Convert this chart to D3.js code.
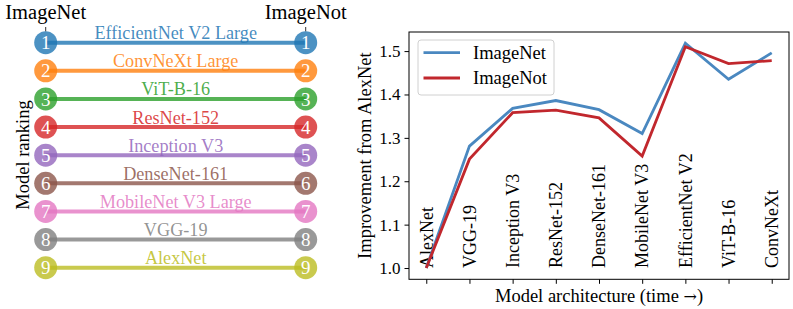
<!DOCTYPE html>
<html>
<head>
<meta charset="utf-8">
<script src="https://cdn.jsdelivr.net/npm/d3@7"></script>
<style>
	body { margin: 0; background: #fff; }
	svg { display: block; font-family: "Liberation Serif", serif; }
</style>
</head>
<body>
<svg id="chart" width="793" height="309"></svg>
<script>
// models on the right, oldest first
const models = ['AlexNet', 'VGG-19', 'Inception V3', 'ResNet-152', 'DenseNet-161', 'MobileNet V3', 'EfficientNet V2', 'ViT-B-16', 'ConvNeXt'];
const imagenetGain = [1.0, 1.281, 1.368, 1.386, 1.365, 1.31, 1.518, 1.435, 1.496];
const imagenotGain = [1.0, 1.251, 1.358, 1.364, 1.346, 1.258, 1.51, 1.471, 1.478];
const yTicks = [1.0, 1.1, 1.2, 1.3, 1.4, 1.5];

// ranking panel on the left
const rankModels = ['EfficientNet V2 Large', 'ConvNeXt Large', 'ViT-B-16', 'ResNet-152', 'Inception V3', 'DenseNet-161', 'MobileNet V3 Large', 'VGG-19', 'AlexNet'];
const rankImageNet = [1, 2, 3, 4, 5, 6, 7, 8, 9];
const rankImageNot = [1, 2, 3, 4, 5, 6, 7, 8, 9];
const rankColumns = ['ImageNet', 'ImageNot'];

const rankColors = d3.schemeCategory10;
const seriesColors = {ImageNet: '#4a88c0', ImageNot: '#c1272d'};

const svg = d3.select('#chart');

// ---------- left: ranking ----------
const rx = d3.scalePoint().domain(rankColumns).range([45.7, 305.7]);
const ry = d3.scaleLinear().domain([1, 9]).range([42.7, 267.7]);

const left = svg.append('g');

left.selectAll('text.col')
	.data(rankColumns)
	.enter()
	.append('text')
	.attr('class', 'col')
	.attr('x', d => rx(d))
	.attr('y', 18.5)
	.attr('text-anchor', 'middle')
	.style('font-size', '20.5px')
	.text(d => d);

left.selectAll('line.tick')
	.data(rankColumns)
	.enter()
	.append('line')
	.attr('x1', d => rx(d))
	.attr('x2', d => rx(d))
	.attr('y1', 27)
	.attr('y2', 31.5)
	.attr('stroke', '#333')
	.attr('stroke-width', 1);

const rows = rankModels.map((name, i) => ({
	name: name,
	a: rankImageNet[i],
	b: rankImageNot[i],
	color: rankColors[i],
}));

const rowG = left.selectAll('g.row')
	.data(rows)
	.enter()
	.append('g')
	.attr('class', 'row');

rowG.append('circle')
	.attr('cx', rx('ImageNet'))
	.attr('cy', d => ry(d.a))
	.attr('r', 11.5)
	.attr('fill', d => d.color)
	.attr('fill-opacity', 0.8);

rowG.append('circle')
	.attr('cx', rx('ImageNot'))
	.attr('cy', d => ry(d.b))
	.attr('r', 11.5)
	.attr('fill', d => d.color)
	.attr('fill-opacity', 0.8);

rowG.append('line')
	.attr('x1', rx('ImageNet'))
	.attr('x2', rx('ImageNot'))
	.attr('y1', d => ry(d.a))
	.attr('y2', d => ry(d.b))
	.attr('stroke', d => d.color)
	.attr('stroke-opacity', 0.8)
	.attr('stroke-width', 4);

rowG.append('text')
	.attr('x', rx('ImageNet'))
	.attr('y', d => ry(d.a))
	.attr('dy', '0.35em')
	.attr('text-anchor', 'middle')
	.attr('fill', '#fff')
	.style('font-size', '19px')
	.text(d => d.a);

rowG.append('text')
	.attr('x', rx('ImageNot'))
	.attr('y', d => ry(d.b))
	.attr('dy', '0.35em')
	.attr('text-anchor', 'middle')
	.attr('fill', '#fff')
	.style('font-size', '19px')
	.text(d => d.b);

rowG.append('text')
	.attr('x', (rx('ImageNet') + rx('ImageNot')) / 2)
	.attr('y', d => (ry(d.a) + ry(d.b)) / 2 - 3.5)
	.attr('text-anchor', 'middle')
	.attr('fill', d => d.color)
	.attr('fill-opacity', 0.85)
	.style('font-size', '18.2px')
	.text(d => d.name);

left.append('text')
	.attr('transform', 'translate(29,155) rotate(-90)')
	.attr('text-anchor', 'middle')
	.style('font-size', '18.5px')
	.text('Model ranking');

// ---------- right: improvement ----------
const x = d3.scaleLinear().domain([-0.4, models.length - 1 + 0.4]).range([409, 789]);
const y = d3.scaleLinear().domain([0.974, 1.544]).range([279.3, 32]);

const right = svg.append('g');

const xAxis = right.append('g')
	.attr('transform', `translate(0,${y.range()[0]})`)
	.call(d3.axisBottom(x).tickValues(d3.range(models.length)).tickSize(4.5).tickFormat(''));
xAxis.select('.domain').remove();
xAxis.selectAll('line').attr('stroke', '#000');

const yAxis = right.append('g')
	.attr('transform', `translate(${x.range()[0]},0)`)
	.call(d3.axisLeft(y).tickValues(yTicks).tickSize(4.5).tickPadding(4).tickFormat(d3.format('.1f')));
yAxis.select('.domain').remove();
yAxis.selectAll('line').attr('stroke', '#000');
yAxis.selectAll('text')
	.attr('fill', '#000')
	.style('font-size', '17px')
	.style('font-family', '"Liberation Serif", serif');

right.append('rect')
	.attr('x', x.range()[0])
	.attr('y', y.range()[1])
	.attr('width', x.range()[1] - x.range()[0])
	.attr('height', y.range()[0] - y.range()[1])
	.attr('fill', 'none')
	.attr('stroke', '#000')
	.attr('stroke-width', 1);

// rotated model names inside the plot
right.selectAll('text.model')
	.data(models)
	.enter()
	.append('text')
	.attr('class', 'model')
	.attr('transform', (d, i) => `translate(${x(i)},${y(1.0)}) rotate(-90)`)
	.attr('dy', '0.35em')
	.attr('text-anchor', 'start')
	.style('font-size', '18px')
	.text(d => d);

const line = d3.line()
	.x((d, i) => x(i))
	.y(d => y(d));

right.append('path')
	.datum(imagenetGain)
	.attr('d', line)
	.attr('fill', 'none')
	.attr('stroke', seriesColors.ImageNet)
	.attr('stroke-width', 2.8);

right.append('path')
	.datum(imagenotGain)
	.attr('d', line)
	.attr('fill', 'none')
	.attr('stroke', seriesColors.ImageNot)
	.attr('stroke-width', 2.8);

// legend
const lg = right.append('g');
lg.append('rect')
	.attr('x', 418)
	.attr('y', 40)
	.attr('width', 136)
	.attr('height', 55)
	.attr('rx', 3)
	.attr('fill', '#fff')
	.attr('fill-opacity', 0.8)
	.attr('stroke', '#d0d0d0');

const legendItems = ['ImageNet', 'ImageNot'];
legendItems.forEach((k, i) => {
	const ly = 52.7 + i * 25.3;
	lg.append('line')
		.attr('x1', 423.5)
		.attr('x2', 460)
		.attr('y1', ly)
		.attr('y2', ly)
		.attr('stroke', seriesColors[k])
		.attr('stroke-width', 2.8);
	lg.append('text')
		.attr('x', 473)
		.attr('y', ly)
		.attr('dy', '0.35em')
		.style('font-size', '18.5px')
		.text(k);
});

const xLabel = right.append('text')
	.attr('x', (x.range()[0] + x.range()[1]) / 2)
	.attr('y', 302)
	.attr('text-anchor', 'middle')
	.style('font-size', '18.5px');
xLabel.append('tspan').text('Model architecture (time ');
xLabel.append('tspan').style('font-family', '"DejaVu Serif", serif').style('font-size', '16px').text('\u2192');
xLabel.append('tspan').text(')');

right.append('text')
	.attr('transform', `translate(371,${(y.range()[0] + y.range()[1]) / 2}) rotate(-90)`)
	.attr('text-anchor', 'middle')
	.style('font-size', '18.5px')
	.text('Improvement from AlexNet');
</script>
</body>
</html>
